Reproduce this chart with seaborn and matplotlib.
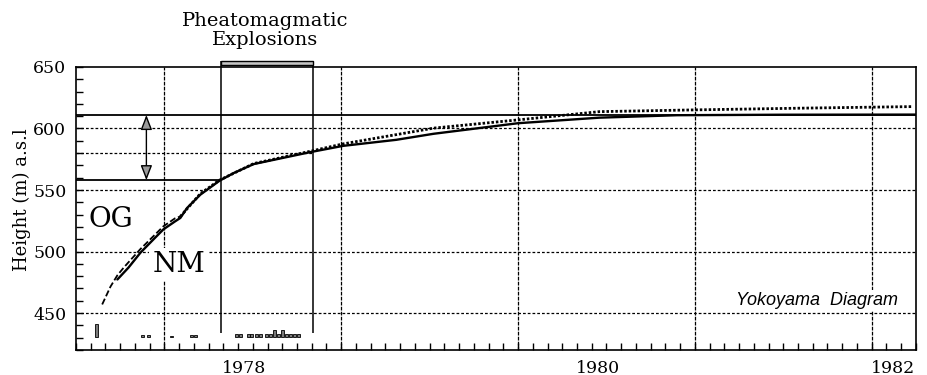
import matplotlib
matplotlib.use("Agg")
import matplotlib.pyplot as plt
import numpy as np
import pandas as pd
import seaborn as sns
from matplotlib.patches import Rectangle, FancyArrowPatch
from matplotlib.ticker import FixedLocator, MultipleLocator

# Observed dome height (solid line)
obs_year = [1977.734, 1977.797, 1977.864, 1977.932, 1977.994, 1978.06, 1978.09,
            1978.128, 1978.203, 1978.311, 1978.392, 1978.505, 1978.637, 1978.825,
            1979.011, 1979.311, 1979.522, 1980.0, 1980.46, 1980.9, 1981.5, 1982.25]
obs_height = [477.3, 487.0, 499.0, 509.0, 518.0, 524.5, 527.3,
              535.4, 546.2, 557.5, 563.8, 571.1, 575.1, 580.8,
              585.9, 590.8, 595.7, 604.3, 608.8, 610.8, 611.2, 611.3]

# Yokoyama-type fitted curve (dashed, then dotted)
model_year = [1977.648, 1977.695, 1977.733, 1977.77, 1977.864, 1977.994, 1978.06,
              1978.09, 1978.203, 1978.311, 1978.505, 1978.825, 1979.011, 1979.522,
              1980.0, 1980.46, 1980.99, 1981.59, 1982.23]
model_height = [457.0, 471.5, 480.5, 487.0, 502.0, 520.5, 527.0,
                528.5, 547.0, 558.0, 571.5, 581.5, 587.5, 600.3,
                607.0, 613.7, 615.1, 616.5, 617.8]
model_switch = 1978.09

# Explosive events recorded along the bottom strip
event_year = [1977.616, 1977.874, 1977.908, 1978.04, 1978.153, 1978.175,
              1978.407, 1978.429, 1978.475, 1978.492, 1978.520, 1978.542,
              1978.576, 1978.599, 1978.621, 1978.644, 1978.667, 1978.689,
              1978.712, 1978.734, 1978.757]
event_size = [10.5, 1.5, 1.5, 1.2, 2.0, 2.0,
              2.5, 2.5, 2.5, 2.5, 2.5, 2.5,
              2.5, 2.5, 6.0, 2.5, 6.0, 2.5,
              2.5, 2.5, 2.5]

year_tick_pos = [1978.45, 1980.45, 1982.12]
year_tick_labels = ["1978", "1980", "1982"]
height_ticks = [450, 500, 550, 600, 650]
year_lines = [1978, 1979, 1980, 1981, 1982]
height_grid = [450, 500, 550, 600]
height_grid_partial = 580
og_level = 558
nm_level = 611
explosion_start, explosion_end = 1978.32, 1978.84

sns.set_style("white")
plt.rcParams["font.family"] = ["DejaVu Serif"]
plt.rcParams["text.color"] = "black"
plt.rcParams["axes.labelcolor"] = "black"
plt.rcParams["xtick.color"] = "black"
plt.rcParams["ytick.color"] = "black"

fig = plt.figure(figsize=(9.27, 3.75), dpi=100)
ax = fig.add_axes([0.082, 0.0667, 0.906, 0.7547])
ax.set_xlim(1977.5, 1982.25)
ax.set_ylim(420, 650)

grid_ls = (0, (2.2, 1.6))
# dotted reference grid
ax.hlines(height_grid, 1977.5, 1982.25, colors="black", linestyles=[grid_ls], lw=0.9, zorder=1)
ax.hlines(height_grid_partial, 1977.5, explosion_end, colors="black", linestyles=[grid_ls], lw=0.9, zorder=1)
ax.vlines(year_lines, 420, 650, colors="black", linestyles=[(0, (3, 1))], lw=0.9, zorder=1)

# OG and NM reference levels
ax.axhline(nm_level, color="black", lw=1.3, zorder=2)
ax.hlines(og_level, 1977.5, explosion_start, color="black", lw=1.3, zorder=2)

# phreatomagmatic explosion window
ax.vlines([explosion_start, explosion_end], 433.5, 655, colors="black", lw=1.1,
          zorder=2, clip_on=False)
ax.add_patch(Rectangle((explosion_start, 652), explosion_end - explosion_start, 3,
                       facecolor="#c4c4c4", edgecolor="black", lw=1.0,
                       clip_on=False, zorder=3))

obs = pd.DataFrame({"year": obs_year, "height": obs_height})
model = pd.DataFrame({"year": model_year, "height": model_height})
early = model[model["year"] <= model_switch]
late = model[model["year"] >= model_switch]

sns.lineplot(data=early, x="year", y="height", ax=ax, color="black", lw=1.3,
             linestyle=(0, (3.5, 1.5)), zorder=4)
sns.lineplot(data=late, x="year", y="height", ax=ax, color="black", lw=2.0,
             linestyle=(0, (0.9, 0.7)), zorder=4)
sns.lineplot(data=obs, x="year", y="height", ax=ax, color="black", lw=1.7, zorder=5)

# event markers
ax.bar(event_year, event_size, bottom=430.5, width=0.017, color="#7a7a7a",
       edgecolor="black", linewidth=0.6, zorder=3)

# height gap arrow
ax.add_patch(FancyArrowPatch((1977.898, og_level), (1977.898, nm_level),
                             arrowstyle="<|-|>,head_length=0.9,head_width=0.35",
                             mutation_scale=10, facecolor="#9a9a9a",
                             edgecolor="black", lw=1.0, shrinkA=0, shrinkB=0, zorder=6))

ax.text(1977.568, 520, "OG", fontsize=20, ha="left", va="baseline", zorder=7)
ax.text(1978.08, 483.4, "NM", fontsize=20, ha="center", va="baseline", zorder=7,
        bbox=dict(boxstyle="square,pad=0.12", facecolor="white", edgecolor="none"))
ax.text(1982.147, 456.6, "Yokoyama  Diagram", fontsize=13, ha="right", va="baseline",
        family=["Liberation Sans", "DejaVu Sans"], style="italic", zorder=7,
        bbox=dict(boxstyle="square,pad=0.1", facecolor="white", edgecolor="none"))

fig.text(0.286, 0.918, "Pheatomagmatic\nExplosions", ha="center", va="center",
         fontsize=14, linespacing=1.1)

# axes, ticks, labels
for side in ["left", "right", "top", "bottom"]:
    ax.spines[side].set_visible(True)
    ax.spines[side].set_color("black")
    ax.spines[side].set_linewidth(1.2)

ax.set_xticks(year_tick_pos)
ax.set_xticklabels(year_tick_labels)
ax.xaxis.set_minor_locator(FixedLocator(np.arange(1977.5, 1982.26, 1 / 12)))
ax.set_yticks(height_ticks)
ax.yaxis.set_minor_locator(MultipleLocator(10))
ax.tick_params(axis="x", which="major", length=0, pad=7, labelsize=12.5)
ax.tick_params(axis="x", which="minor", direction="in", length=5, width=1, bottom=True, top=False)
ax.tick_params(axis="y", which="both", direction="in", length=5, width=1, left=True, right=False)
ax.tick_params(axis="y", which="major", pad=7, labelsize=12.5)

ax.set_xlabel("")
ax.set_ylabel("Height (m) a.s.l", fontsize=13)
ax.yaxis.set_label_coords(-0.054, 0.53)

fig.savefig("out.png", dpi=100)
